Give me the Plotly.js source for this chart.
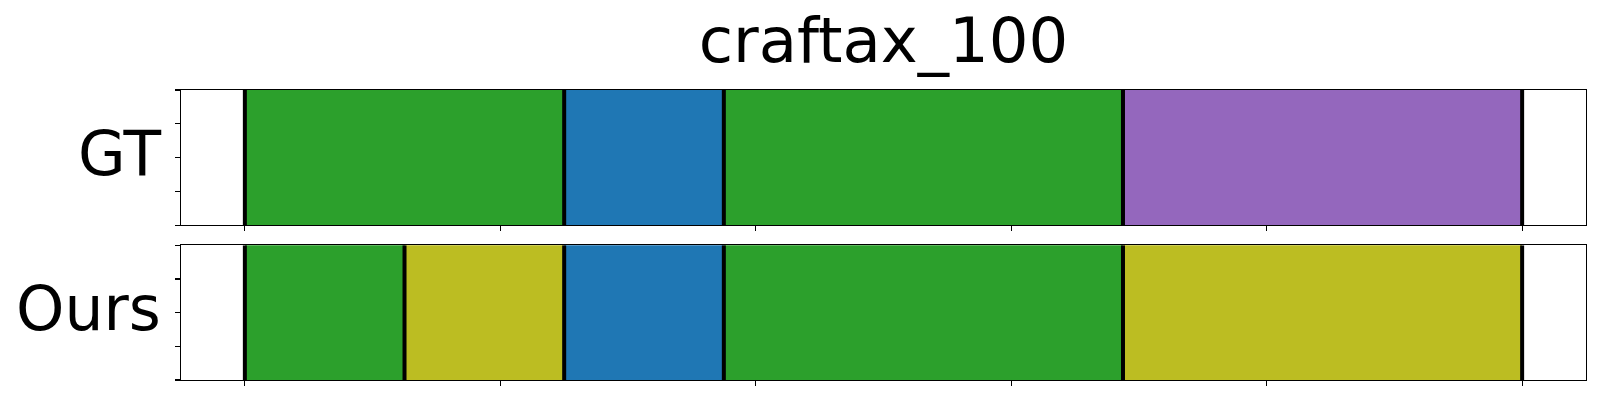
<!DOCTYPE html>
<html>
<head>
<meta charset="utf-8">
<script src="https://cdn.plot.ly/plotly-3.0.1.min.js"></script>
<style>html,body{margin:0;padding:0;background:#fff;}#chart{width:1600px;height:400px;}</style>
</head>
<body>
<div id="chart"></div>
<script>
// ---- data ----
const chartTitle = "craftax_100";
const rowLabels = ["GT", "Ours"];
const gtBounds = [0, 25, 37.5, 68.75, 100];
const gtColors = ["#2ca02c", "#1f77b4", "#2ca02c", "#9467bd"];
const oursBounds = [0, 12.5, 25, 37.5, 68.75, 100];
const oursColors = ["#2ca02c", "#bcbd22", "#1f77b4", "#2ca02c", "#bcbd22"];
const xTicks = [0, 20, 40, 60, 80, 100];
const yTicks = [0, 0.25, 0.5, 0.75, 1];

function segTrace(bounds, colors, xa, ya) {
  const base = [], w = [], y = [];
  for (let i = 0; i < colors.length; i++) {
    base.push(bounds[i]);
    w.push(bounds[i + 1] - bounds[i]);
    y.push(0.5);
  }
  return {
    type: "bar", orientation: "h", base: base, x: w, y: y, width: 1,
    marker: {color: colors, line: {width: 0}},
    xaxis: xa, yaxis: ya, hoverinfo: "skip", showlegend: false
  };
}
function lineTrace(bounds, xa, ya) {
  const x = [], y = [];
  bounds.forEach(b => { x.push(b, b, null); y.push(0, 1, null); });
  return {
    type: "scatter", mode: "lines", x: x, y: y,
    line: {color: "#000", width: 4},
    xaxis: xa, yaxis: ya, hoverinfo: "skip", showlegend: false
  };
}

const data = [
  segTrace(gtBounds, gtColors, "x", "y"),
  segTrace(oursBounds, oursColors, "x2", "y2"),
  lineTrace(gtBounds, "x", "y"),
  lineTrace(oursBounds, "x2", "y2")
];

const xCommon = {
  range: [-5, 105], showgrid: false, zeroline: false,
  showline: true, mirror: true, linecolor: "#000", linewidth: 1.1,
  ticks: "outside", ticklen: 5, tickwidth: 1.1, tickcolor: "#000",
  tickvals: xTicks, showticklabels: false, fixedrange: true
};
const yCommon = {
  range: [0, 1], showgrid: false, zeroline: false,
  showline: true, mirror: true, linecolor: "#000", linewidth: 1.1,
  ticks: "outside", ticklen: 5, tickwidth: 1.1, tickcolor: "#000",
  tickvals: yTicks, showticklabels: false, fixedrange: true
};

const layout = {
  width: 1600, height: 400,
  margin: {l: 181, r: 14, t: 90, b: 20},
  paper_bgcolor: "#fff", plot_bgcolor: "#fff",
  font: {family: "DejaVu Sans", color: "#000"},
  title: {text: chartTitle, font: {family: "DejaVu Sans", size: 62.5, color: "#000"},
          x: 0.5, xref: "paper", xanchor: "center", y: 0.9, yref: "container", yanchor: "middle"},
  xaxis: Object.assign({}, xCommon, {domain: [0, 1], anchor: "y"}),
  yaxis: Object.assign({}, yCommon, {domain: [0.5334, 1], anchor: "x"}),
  xaxis2: Object.assign({}, xCommon, {domain: [0, 1], anchor: "y2"}),
  yaxis2: Object.assign({}, yCommon, {domain: [0, 0.4645], anchor: "x2"}),
  bargap: 0,
  annotations: rowLabels.map((t, i) => ({
    text: t, showarrow: false,
    xref: "paper", x: 0, xanchor: "right", xshift: -18, yshift: 4,
    yref: (i === 0 ? "y domain" : "y2 domain"), y: 0.5, yanchor: "middle",
    font: {family: "DejaVu Sans", size: 61.5, color: "#000"}
  }))
};

Plotly.newPlot("chart", data, layout, {staticPlot: true, displayModeBar: false});
</script>
</body>
</html>
